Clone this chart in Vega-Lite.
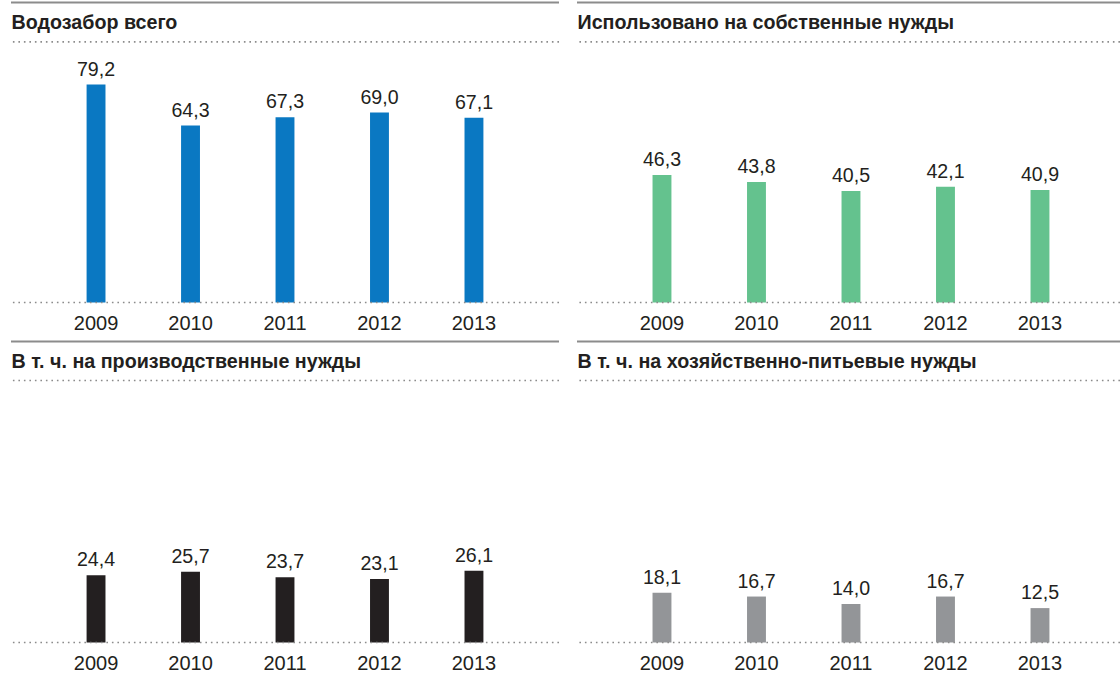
{
  "$schema": "https://vega.github.io/schema/vega-lite/v6.json",
  "padding": {"left": 10, "top": 1.5, "right": 0, "bottom": 0},
  "background": "white",
  "datasets": {
    "a": [{"year": "2009", "value": 79.2}, {"year": "2010", "value": 64.3}, {"year": "2011", "value": 67.3}, {"year": "2012", "value": 69.0}, {"year": "2013", "value": 67.1}],
    "b": [{"year": "2009", "value": 46.3}, {"year": "2010", "value": 43.8}, {"year": "2011", "value": 40.5}, {"year": "2012", "value": 42.1}, {"year": "2013", "value": 40.9}],
    "c": [{"year": "2009", "value": 24.4}, {"year": "2010", "value": 25.7}, {"year": "2011", "value": 23.7}, {"year": "2012", "value": 23.1}, {"year": "2013", "value": 26.1}],
    "d": [{"year": "2009", "value": 18.1}, {"year": "2010", "value": 16.7}, {"year": "2011", "value": 14.0}, {"year": "2012", "value": 16.7}, {"year": "2013", "value": 12.5}]
  },
  "vconcat": [
    {
      "hconcat": [
        {
          "width": 548, "height": 300,
          "data": {"name": "a"},
          "layer": [
            {"mark": {"type": "bar", "color": "#0a78c2"},
             "encoding": {
               "x": {"field": "year", "type": "ordinal", "scale": {"paddingInner": 0.8, "paddingOuter": 0.8}, "axis": {"title": null, "domain": false, "ticks": false, "labelPadding": 10.5, "labelFontSize": 20, "labelAngle": 0, "labelColor": "#231f20"}},
               "y": {"field": "value", "type": "quantitative", "scale": {"domain": [0, 109], "nice": false}, "axis": {"title": "Водозабор всего", "domain": false, "ticks": false, "labels": false, "grid": false, "titleAngle": 0, "titleX": 0, "titleY": 25.5, "titleAlign": "left", "titleBaseline": "alphabetic", "titleFontSize": 19.7, "titleFontWeight": "bold", "titleColor": "#231f20"}}
             }},
            {"data": {"values": [{}]}, "mark": {"type": "rule", "color": "#8c8c8c", "strokeWidth": 2}, "encoding": {"y": {"datum": 109, "type": "quantitative"}}},
            {"data": {"values": [{}]}, "mark": {"type": "rule", "color": "#8c8c8c", "strokeWidth": 1.6, "strokeDash": [1.6, 3.9]}, "encoding": {"y": {"datum": 94.7, "type": "quantitative"}}},
            {"data": {"values": [{}]}, "mark": {"type": "rule", "color": "#8c8c8c", "strokeWidth": 1.6, "strokeDash": [1.6, 3.9]}, "encoding": {"y": {"datum": 0, "type": "quantitative"}}},
            {"mark": {"type": "text", "dy": -9, "baseline": "alphabetic", "fontSize": 19.6, "color": "#231f20"},
             "encoding": {
               "x": {"field": "year", "type": "ordinal"},
               "y": {"field": "value", "type": "quantitative"},
               "text": {"field": "value", "type": "quantitative", "format": ".1f"}
             }}
          ]
        },
        {
          "width": 543, "height": 300,
          "data": {"name": "b"},
          "layer": [
            {"mark": {"type": "bar", "color": "#64c28e"},
             "encoding": {
               "x": {"field": "year", "type": "ordinal", "scale": {"paddingInner": 0.8, "paddingOuter": 0.773, "align": 0.517}, "axis": {"title": null, "domain": false, "ticks": false, "labelPadding": 10.5, "labelFontSize": 20, "labelAngle": 0, "labelColor": "#231f20"}},
               "y": {"field": "value", "type": "quantitative", "scale": {"domain": [0, 109], "nice": false}, "axis": {"title": "Использовано на собственные нужды", "domain": false, "ticks": false, "labels": false, "grid": false, "titleAngle": 0, "titleX": 0, "titleY": 25.5, "titleAlign": "left", "titleBaseline": "alphabetic", "titleFontSize": 19.7, "titleFontWeight": "bold", "titleColor": "#231f20"}}
             }},
            {"data": {"values": [{}]}, "mark": {"type": "rule", "color": "#8c8c8c", "strokeWidth": 2}, "encoding": {"y": {"datum": 109, "type": "quantitative"}}},
            {"data": {"values": [{}]}, "mark": {"type": "rule", "color": "#8c8c8c", "strokeWidth": 1.6, "strokeDash": [1.6, 3.9]}, "encoding": {"y": {"datum": 94.7, "type": "quantitative"}}},
            {"data": {"values": [{}]}, "mark": {"type": "rule", "color": "#8c8c8c", "strokeWidth": 1.6, "strokeDash": [1.6, 3.9]}, "encoding": {"y": {"datum": 0, "type": "quantitative"}}},
            {"mark": {"type": "text", "dy": -9, "baseline": "alphabetic", "fontSize": 19.6, "color": "#231f20"},
             "encoding": {
               "x": {"field": "year", "type": "ordinal"},
               "y": {"field": "value", "type": "quantitative"},
               "text": {"field": "value", "type": "quantitative", "format": ".1f"}
             }}
          ]
        }
      ],
      "spacing": 16
    },
    {
      "hconcat": [
        {
          "width": 548, "height": 301,
          "data": {"name": "c"},
          "layer": [
            {"mark": {"type": "bar", "color": "#231f20"},
             "encoding": {
               "x": {"field": "year", "type": "ordinal", "scale": {"paddingInner": 0.8, "paddingOuter": 0.8}, "axis": {"title": null, "domain": false, "ticks": false, "labelPadding": 10.5, "labelFontSize": 20, "labelAngle": 0, "labelColor": "#231f20"}},
               "y": {"field": "value", "type": "quantitative", "scale": {"domain": [0, 109.37], "nice": false}, "axis": {"title": "В т. ч. на производственные нужды", "domain": false, "ticks": false, "labels": false, "grid": false, "titleAngle": 0, "titleX": 0, "titleY": 25.5, "titleAlign": "left", "titleBaseline": "alphabetic", "titleFontSize": 19.7, "titleFontWeight": "bold", "titleColor": "#231f20"}}
             }},
            {"data": {"values": [{}]}, "mark": {"type": "rule", "color": "#8c8c8c", "strokeWidth": 2}, "encoding": {"y": {"datum": 109.37, "type": "quantitative"}}},
            {"data": {"values": [{}]}, "mark": {"type": "rule", "color": "#8c8c8c", "strokeWidth": 1.6, "strokeDash": [1.6, 3.9]}, "encoding": {"y": {"datum": 95.2, "type": "quantitative"}}},
            {"data": {"values": [{}]}, "mark": {"type": "rule", "color": "#8c8c8c", "strokeWidth": 1.6, "strokeDash": [1.6, 3.9]}, "encoding": {"y": {"datum": 0, "type": "quantitative"}}},
            {"mark": {"type": "text", "dy": -9, "baseline": "alphabetic", "fontSize": 19.6, "color": "#231f20"},
             "encoding": {
               "x": {"field": "year", "type": "ordinal"},
               "y": {"field": "value", "type": "quantitative"},
               "text": {"field": "value", "type": "quantitative", "format": ".1f"}
             }}
          ]
        },
        {
          "width": 543, "height": 301,
          "data": {"name": "d"},
          "layer": [
            {"mark": {"type": "bar", "color": "#939598"},
             "encoding": {
               "x": {"field": "year", "type": "ordinal", "scale": {"paddingInner": 0.8, "paddingOuter": 0.773, "align": 0.517}, "axis": {"title": null, "domain": false, "ticks": false, "labelPadding": 10.5, "labelFontSize": 20, "labelAngle": 0, "labelColor": "#231f20"}},
               "y": {"field": "value", "type": "quantitative", "scale": {"domain": [0, 109.37], "nice": false}, "axis": {"title": "В т. ч. на хозяйственно-питьевые нужды", "domain": false, "ticks": false, "labels": false, "grid": false, "titleAngle": 0, "titleX": 0, "titleY": 25.5, "titleAlign": "left", "titleBaseline": "alphabetic", "titleFontSize": 19.7, "titleFontWeight": "bold", "titleColor": "#231f20"}}
             }},
            {"data": {"values": [{}]}, "mark": {"type": "rule", "color": "#8c8c8c", "strokeWidth": 2}, "encoding": {"y": {"datum": 109.37, "type": "quantitative"}}},
            {"data": {"values": [{}]}, "mark": {"type": "rule", "color": "#8c8c8c", "strokeWidth": 1.6, "strokeDash": [1.6, 3.9]}, "encoding": {"y": {"datum": 95.2, "type": "quantitative"}}},
            {"data": {"values": [{}]}, "mark": {"type": "rule", "color": "#8c8c8c", "strokeWidth": 1.6, "strokeDash": [1.6, 3.9]}, "encoding": {"y": {"datum": 0, "type": "quantitative"}}},
            {"mark": {"type": "text", "dy": -9, "baseline": "alphabetic", "fontSize": 19.6, "color": "#231f20"},
             "encoding": {
               "x": {"field": "year", "type": "ordinal"},
               "y": {"field": "value", "type": "quantitative"},
               "text": {"field": "value", "type": "quantitative", "format": ".1f"}
             }}
          ]
        }
      ],
      "spacing": 16
    }
  ],
  "spacing": 7,
  "config": {
    "font": "Liberation Sans",
    "view": {"stroke": null},
    "axis": {"grid": false},
    "locale": {"number": {"decimal": ",", "thousands": " ", "grouping": [3], "currency": ["", ""]}}
  }
}
